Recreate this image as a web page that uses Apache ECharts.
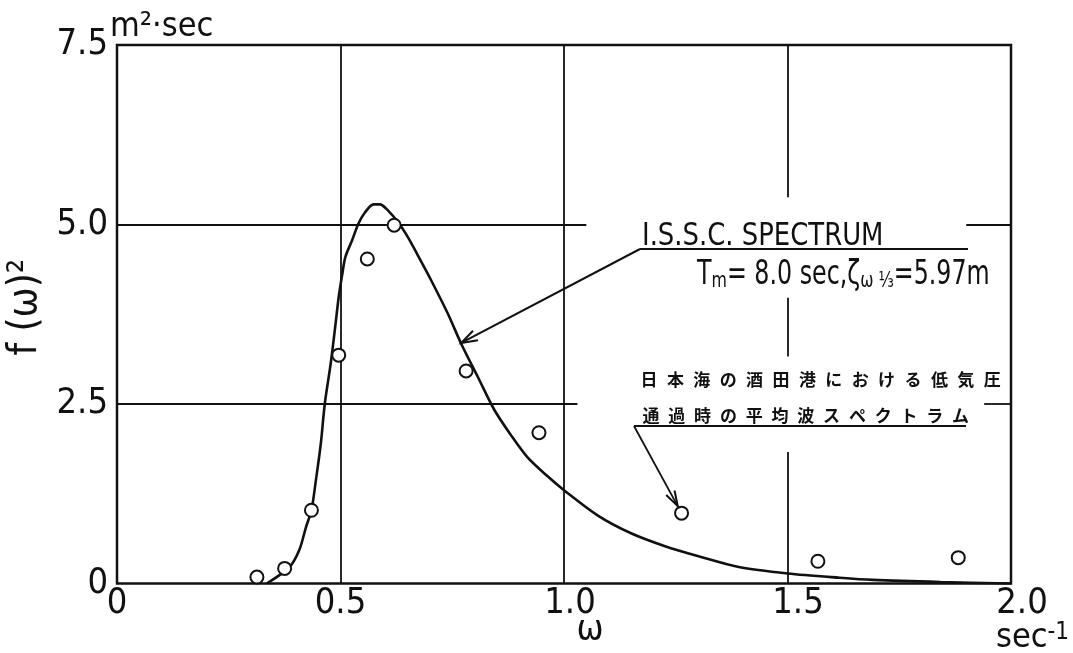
<!DOCTYPE html>
<html>
<head>
<meta charset="utf-8">
<script src="https://cdn.jsdelivr.net/npm/echarts@6/dist/echarts.min.js"></script>
<style>
  html, body { margin: 0; padding: 0; background: #fff; }
  #chart { width: 1073px; height: 653px; }
</style>
</head>
<body>
<div id="chart"></div>
<script>
// Wave frequency ω (sec^-1) of the measured spectrum points
const obsOmega = [0.313, 0.375, 0.435, 0.496, 0.560, 0.620, 0.781, 0.944, 1.263, 1.568, 1.882];
// Measured mean spectral density f(ω)^2 (m^2·sec)
const obsDensity = [0.09, 0.21, 1.02, 3.18, 4.52, 4.99, 2.96, 2.10, 0.98, 0.31, 0.36];

// I.S.S.C. spectrum curve (Tm = 8.0 sec, significant height 5.97 m)
const isscOmega = [0.335, 0.386, 0.408, 0.423, 0.435, 0.445, 0.456, 0.465, 0.478, 0.489,
  0.496, 0.504, 0.511, 0.526, 0.540, 0.555, 0.574, 0.588, 0.607, 0.629,
  0.651, 0.673, 0.703, 0.740, 0.770, 0.807, 0.844, 0.881, 0.918, 0.962,
  1.000, 1.075, 1.150, 1.226, 1.301, 1.391, 1.500, 1.617, 1.691, 1.842, 2.000];
const isscDensity = [0.00, 0.23, 0.47, 0.79, 1.02, 1.44, 1.95, 2.51, 3.06, 3.62,
  3.99, 4.31, 4.55, 4.78, 5.01, 5.17, 5.28, 5.28, 5.19, 5.03,
  4.82, 4.57, 4.22, 3.76, 3.34, 2.88, 2.42, 2.07, 1.76, 1.50,
  1.30, 0.95, 0.70, 0.52, 0.38, 0.23, 0.14, 0.08, 0.05, 0.02, 0.00];

// Tick labels
const xTickLabels = ['0', '0.5', '1.0', '1.5', '2.0'];
const yTickLabels = ['0', '2.5', '5.0', '7.5'];

const LATIN = '"Liberation Sans Narrow", "Arial Narrow", "DejaVu Sans Condensed", "Liberation Sans", sans-serif';
const CJK = '"Noto Sans CJK JP", "Noto Sans CJK SC", sans-serif';
const INK = '#111';

const chart = echarts.init(document.getElementById('chart'), null, { renderer: 'canvas' });

// Grid rules, interrupted where the annotations sit
function seg(x1, y1, x2, y2) { return [{ coord: [x1, y1] }, { coord: [x2, y2] }]; }
const gridRules = [
  seg(0.5, 0, 0.5, 7.5),
  seg(1.0, 0, 1.0, 7.5),
  seg(1.5, 5.38, 1.5, 7.5),
  seg(1.5, 3.16, 1.5, 3.98),
  seg(1.5, 0, 1.5, 1.83),
  seg(0, 5.0, 1.05, 5.0),
  seg(1.9, 5.0, 2.0, 5.0),
  seg(0, 2.5, 1.03, 2.5),
  seg(1.94, 2.5, 2.0, 2.5)
];

const tickRich = (pad) => ({ fontFamily: LATIN, fontSize: 36, color: INK, padding: [0, 0, 0, pad] });

chart.setOption({
  animation: false,
  backgroundColor: '#fff',
  grid: {
    left: 117, right: 62, top: 45, bottom: 69.5,
    outerBoundsMode: 'none', containLabel: false,
    show: true, borderColor: INK, borderWidth: 2.5, backgroundColor: 'transparent'
  },
  xAxis: {
    type: 'value', min: 0, max: 2, interval: 0.5,
    axisLine: { show: false }, axisTick: { show: false }, splitLine: { show: false },
    axisLabel: {
      margin: 2, color: INK, fontFamily: LATIN, fontSize: 36,
      alignMinLabel: 'center', alignMaxLabel: 'center',
      formatter: (v, i) => (i >= 2 ? '{r' + i + '|' + xTickLabels[i] + '}' : xTickLabels[i]),
      rich: { r2: tickRich(12), r3: tickRich(21), r4: tickRich(22) }
    }
  },
  yAxis: {
    type: 'value', min: 0, max: 7.5, interval: 2.5,
    axisLine: { show: false }, axisTick: { show: false }, splitLine: { show: false },
    axisLabel: {
      margin: 9, color: INK, fontFamily: LATIN, fontSize: 36,
      verticalAlignMinLabel: 'middle', verticalAlignMaxLabel: 'middle',
      formatter: (v, i) => yTickLabels[i]
    },
    name: 'f (ω)²', nameLocation: 'middle', nameGap: 64, nameRotate: 90,
    nameTextStyle: { color: INK, fontFamily: LATIN, fontSize: 40, padding: [0, 0, 0, 14] }
  },
  series: [
    {
      type: 'scatter', data: [], silent: true, z: 1,
      markLine: {
        silent: true, symbol: ['none', 'none'], label: { show: false },
        lineStyle: { color: INK, width: 1.8, type: 'solid' },
        emphasis: { disabled: true },
        data: gridRules
      }
    },
    {
      name: 'I.S.S.C. SPECTRUM', type: 'line', z: 3, smooth: 0.3,
      showSymbol: false, silent: true,
      lineStyle: { color: INK, width: 2.6 },
      data: isscOmega.map((w, i) => [w, isscDensity[i]])
    },
    {
      name: 'observed', type: 'scatter', z: 5, silent: true,
      symbol: 'circle', symbolSize: 13,
      itemStyle: { color: '#fff', borderColor: INK, borderWidth: 2, opacity: 1 },
      data: obsOmega.map((w, i) => [w, obsDensity[i]])
    }
  ]
});

// Annotations: labels, leader lines and open arrowheads
function arrowHead(tip, from, len, half) {
  const a = Math.atan2(from[1] - tip[1], from[0] - tip[0]);
  const p1 = [tip[0] + len * Math.cos(a + half), tip[1] + len * Math.sin(a + half)];
  const p2 = [tip[0] + len * Math.cos(a - half), tip[1] + len * Math.sin(a - half)];
  return { type: 'polyline', shape: { points: [p1, tip, p2] }, style: { stroke: INK, lineWidth: 2, fill: null }, z: 20 };
}
function line(p, q, w) {
  return { type: 'line', shape: { x1: p[0], y1: p[1], x2: q[0], y2: q[1] }, style: { stroke: INK, lineWidth: w || 2 }, z: 20 };
}

const isscTip = chart.convertToPixel({ gridIndex: 0 }, [0.770, 3.35]);
const isscFrom = [640, 249];
const obsPt = chart.convertToPixel({ gridIndex: 0 }, [obsOmega[8], obsDensity[8]]);
const jpFrom = [634, 426];
const d = Math.hypot(obsPt[0] - jpFrom[0], obsPt[1] - jpFrom[1]);
const jpTip = [obsPt[0] - (obsPt[0] - jpFrom[0]) / d * 8, obsPt[1] - (obsPt[1] - jpFrom[1]) / d * 8];

const jpLine1 = '日本海の酒田港における低気圧';
const jpLine2 = '通過時の平均波スペクトラム';
function spacedText(str, x0, y, pitch) {
  return Array.from(str).map((ch, i) => ({
    type: 'text', z: 20,
    x: x0 + i * pitch, y: y,
    style: { text: ch, fill: INK, font: 'bold 17px ' + CJK, align: 'center', verticalAlign: 'middle' }
  }));
}

const graphics = [
  // unit above the value axis
  { type: 'text', z: 20, x: 110, y: 44,
    style: { text: 'm²·sec', fill: INK, font: '34px ' + LATIN, align: 'left', verticalAlign: 'bottom' } },
  // frequency axis title
  { type: 'text', z: 20, x: 590, y: 631,
    style: { text: 'ω', fill: INK, font: '36px ' + LATIN, align: 'center', verticalAlign: 'middle' } },
  // unit beneath the frequency axis end
  { type: 'text', z: 20, x: 996, y: 655,
    style: {
      text: '{a|sec}{b|-1}', align: 'left', verticalAlign: 'bottom',
      rich: {
        a: { fill: INK, fontFamily: LATIN, fontSize: 34 },
        b: { fill: INK, fontFamily: LATIN, fontSize: 24, verticalAlign: 'top' }
      }
    } },
  // I.S.S.C. label
  { type: 'text', z: 20, x: 642, y: 253, scaleX: 0.9,
    style: { text: 'I.S.S.C. SPECTRUM', fill: INK, font: '32px ' + LATIN, align: 'left', verticalAlign: 'bottom' } },
  line([640, 249], [968, 249], 2),
  line(isscFrom, isscTip, 2),
  arrowHead(isscTip, isscFrom, 17, 0.32),
  { type: 'text', z: 20, x: 697, y: 292, scaleX: 0.8,
    style: {
      text: '{b|T}{s|m}{b|= 8.0 sec,}{b|ζ}{s|ω ⅓}{b|=5.97m}', align: 'left', verticalAlign: 'bottom',
      rich: {
        b: { fill: INK, fontFamily: LATIN, fontSize: 33, verticalAlign: 'bottom' },
        s: { fill: INK, fontFamily: LATIN, fontSize: 22, verticalAlign: 'bottom' }
      }
    } },
  // Japanese note on the measured points
  ...spacedText(jpLine1, 649, 380, 26.4),
  ...spacedText(jpLine2, 651, 416, 25.8),
  line([634, 426], [966, 426], 2),
  line(jpFrom, jpTip, 1.8),
  arrowHead(jpTip, jpFrom, 16, 0.3)
];

chart.setOption({ graphic: graphics });
</script>
</body>
</html>
